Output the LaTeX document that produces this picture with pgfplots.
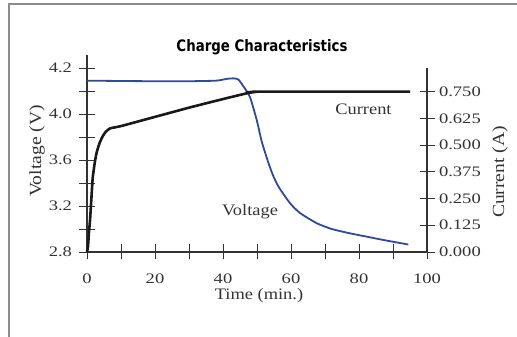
\documentclass[border=0pt]{standalone}
\usepackage{graphicx}
\usepackage{pgfplots}
\pgfplotsset{compat=1.18}
\usepackage{fontspec}
\setmainfont{Liberation Serif}[FakeStretch=1.15]
\newfontfamily\tickfont{Liberation Serif}[FakeStretch=1.28]
\newfontfamily\titlefont{DejaVu Sans}
\definecolor{cblue}{HTML}{2E4A9C}
\definecolor{txt}{HTML}{333333}
\begin{document}
\begin{tikzpicture}[x=1pt,y=1pt]
\useasboundingbox (0,0) rectangle (517,337);
\draw[color=black!45, line width=2pt] (9,0) -- (9,333) -- (517,333);
\begin{axis}[
  at={(87pt,85pt)}, anchor=south west, scale only axis,
  width=340pt, height=184pt,
  xmin=0, xmax=100, ymin=2.8, ymax=4.4,
  axis x line*=bottom, axis y line*=left,
  xtick={0,10,20,30,40,50,60,70,80,90,100},
  xticklabels={0,,20,,40,,60,,80,,100},
  ytick={2.8,3.0,3.2,3.4,3.6,3.8,4.0,4.2,4.4},
  yticklabels={2.8,,3.2,,3.6,,4.0,,4.2},
  tick align=center, major tick length=15pt,
  tick style={line width=0.9pt, black!80},
  axis line style={line width=1.1pt, black!80},
  /pgf/number format/assume math mode=true,
  tick label style={font=\tickfont\fontsize{14.5}{15}\selectfont, text=txt},
  xticklabel style={yshift=-11pt},
  yticklabel style={xshift=-4pt},
  clip=false,
  after end axis/.code={\draw[line width=1.1pt, black!80] (rel axis cs:0,1) -- ++(0,13pt);},
]
\addplot[cblue, line width=1.8pt, smooth, tension=0.4] coordinates {
(0,4.29) (10,4.287) (20,4.285) (30,4.285) (38,4.29) (41,4.305) (43,4.31)
(44.5,4.30) (46,4.24) (47.9,4.15) (49.9,3.95) (51.4,3.76) (53.3,3.58)
(54.8,3.46) (56.5,3.36) (59.7,3.225) (62.6,3.14) (67.6,3.05) (72,3.0)
(77.4,2.962) (82,2.935) (87.1,2.905) (94.5,2.865)
};
\addplot[black!90, line width=2.6pt, smooth, tension=0.3] coordinates {
(0,2.8) (0.3,2.85) (0.6,2.98) (0.9,3.08) (1.3,3.27) (1.7,3.45) (2.3,3.58)
(2.8,3.66) (3.6,3.74) (4.5,3.8) (5.5,3.845) (6.8,3.875) (10,3.895)
(20,3.975) (30,4.055) (40,4.13) (47,4.18) (49,4.19) (51,4.195) (95,4.195)
};
\end{axis}
\begin{axis}[
  at={(87pt,85pt)}, anchor=south west, scale only axis,
  width=340pt, height=184pt,
  xmin=0, xmax=100, ymin=0, ymax=0.86,
  axis y line*=right, axis x line=none,
  ytick={0,0.125,0.25,0.375,0.5,0.625,0.75},
  yticklabels={0.000,0.125,0.250,0.375,0.500,0.625,0.750},
  tick align=center, major tick length=15pt,
  tick style={line width=0.9pt, black!80},
  axis line style={line width=1.1pt, black!80},
  /pgf/number format/assume math mode=true,
  tick label style={font=\tickfont\fontsize{14.5}{15}\selectfont, text=txt},
  yticklabel style={xshift=1pt},
]
\end{axis}
\node[anchor=base, text=black] at (262,285.3) {\resizebox{171pt}{12pt}{\titlefont\bfseries Charge Characteristics}};
\node[font=\fontsize{16}{18}\selectfont, text=txt] at (259,41) {Time (min.)};
\node[rotate=90, font=\fontsize{17}{19}\selectfont, text=txt] at (37,186) {Voltage (V)};
\node[rotate=90, font=\fontsize{17}{19}\selectfont, text=txt] at (500,165) {Current (A)};
\node[font=\fontsize{16}{18}\selectfont, text=txt] at (363.5,228) {Current};
\node[font=\fontsize{16}{18}\selectfont, text=txt] at (250,125) {Voltage};
\end{tikzpicture}
\end{document}
